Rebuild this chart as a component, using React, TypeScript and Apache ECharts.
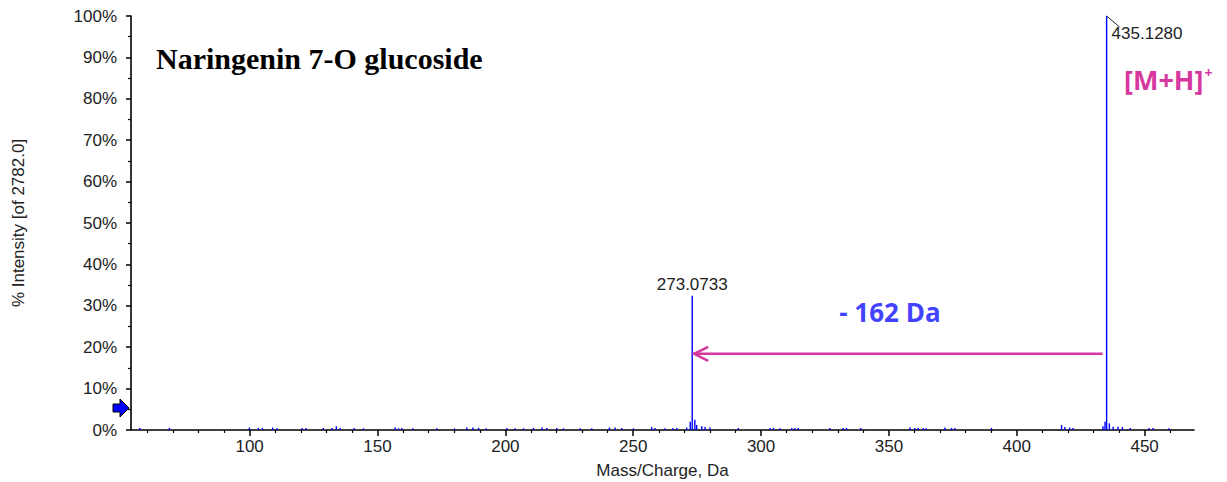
import React, { useEffect, useRef } from "react";
import * as echarts from "echarts";

// Main peaks (m/z, % intensity)
const mainMz = [273.0733, 435.128];
const mainIntensity = [32.4, 100];
const mainLabels = ["273.0733", "435.1280"];

// Small noise peaks (m/z, % intensity)
const noiseMz = [
  57, 68.6, 99.9, 103.4, 105, 109, 110.7, 120.5, 122, 128.8, 132.2, 133.9, 135.4, 140.9, 144.5, 156.9, 158.2,
  159.5, 163.8, 173.2, 180.1, 184.9, 187.3, 189.5, 192.5, 200.6, 203.8, 207.1, 211, 214.3, 216.2, 220.1, 222.7,
  229.2, 233.8, 240.7, 242.9, 245.5, 250.1, 257.2, 258.5, 262.4, 265.5, 267, 270.9, 272.3, 274.1, 274.8, 276.8,
  278.1, 280, 291.1, 303.5, 304.8, 307.4, 312, 313.2, 314.5, 326.9, 332.1, 333.4, 339, 358.2, 360.1, 361.4, 363.4,
  364.5, 371.9, 374.5, 375.8, 390.1, 417.5, 418.8, 420.7, 422, 433.7, 434.5, 436.2, 437.7, 439.6, 441.3, 444.4,
  451.7, 453.3, 459.5,
];
const noiseIntensity = [
  0.5, 0.5, 0.6, 0.5, 0.5, 0.6, 0.4, 0.5, 0.5, 0.5, 0.5, 0.9, 0.5, 0.5, 0.4, 0.6, 0.4,
  0.5, 0.4, 0.4, 0.4, 0.6, 0.6, 0.5, 0.4, 0.5, 0.4, 0.4, 0.5, 0.6, 0.5, 0.5, 0.4,
  0.4, 0.4, 0.6, 0.6, 0.5, 0.4, 0.7, 0.5, 0.4, 0.5, 0.5, 0.6, 2.0, 2.5, 1.2, 0.9,
  0.7, 0.6, 0.5, 0.5, 0.5, 0.4, 0.5, 0.5, 0.5, 0.5, 0.5, 0.5, 0.5, 0.6, 0.5, 0.5, 0.5,
  0.4, 0.6, 0.5, 0.5, 0.5, 1.2, 0.7, 0.6, 0.5, 0.9, 2.0, 1.6, 0.8, 0.8, 0.7, 0.5,
  0.5, 0.5, 0.4,
];

// Axis ticks
const xMajorTicks = [100, 150, 200, 250, 300, 350, 400, 450];
const xMinorTicks = [
  60, 70, 80, 90, 110, 120, 130, 140, 160, 170, 180, 190, 210, 220, 230, 240, 260, 270, 280, 290, 310, 320, 330,
  340, 360, 370, 380, 390, 410, 420, 430, 440, 460,
];

// Annotation (neutral loss arrow)
const arrowFromMz = 433.6;
const arrowToMz = 273.0733;
const arrowLevel = 18.4;
const lossText = "- 162 Da";
const lossTextPos = [350.4, 28.5];

const BLUE = "#0000ff";
const MAGENTA = "#d6389f";
const SANS = "'Liberation Sans', Arial, sans-serif";

export default function App() {
  const ref = useRef<HTMLDivElement>(null);

  useEffect(() => {
    if (!ref.current) return;
    const chart = echarts.init(ref.current, undefined, { renderer: "svg" });

    const peaks = mainMz
      .map((m, i) => [m, mainIntensity[i]])
      .concat(noiseMz.map((m, i) => [m, noiseIntensity[i]]));

    const stickRender = (params: any, api: any) => {
      const x = api.value(0);
      const y = api.value(1);
      const p0 = api.coord([x, 0]);
      const p1 = api.coord([x, y]);
      return {
        type: "line",
        shape: { x1: p0[0], y1: p0[1], x2: p1[0], y2: p1[1] },
        style: { stroke: BLUE, lineWidth: 1.4 },
      };
    };

    const labelRender = (params: any, api: any) => {
      const i = params.dataIndex;
      const p = api.coord([mainMz[i], mainIntensity[i]]);
      if (i === 0) {
        return {
          type: "text",
          x: p[0],
          y: p[1] - 3,
          style: {
            text: mainLabels[i],
            textAlign: "center",
            textVerticalAlign: "bottom",
            fill: "#222",
            font: "17px " + SANS,
          },
        };
      }
      return {
        type: "group",
        children: [
          {
            type: "line",
            shape: { x1: p[0], y1: p[1], x2: p[0] + 13, y2: p[1] + 11 },
            style: { stroke: "#222", lineWidth: 1 },
          },
          {
            type: "text",
            x: p[0] + 5,
            y: p[1] + 9,
            style: {
              text: mainLabels[i],
              textAlign: "left",
              textVerticalAlign: "top",
              fill: "#222",
              font: "17px " + SANS,
            },
          },
        ],
      };
    };

    const arrowRender = (params: any, api: any) => {
      const a = api.coord([arrowFromMz, arrowLevel]);
      const b = api.coord([arrowToMz, arrowLevel]);
      const t = api.coord(lossTextPos);
      return {
        type: "group",
        children: [
          {
            type: "line",
            shape: { x1: a[0], y1: a[1], x2: b[0] + 1, y2: b[1] },
            style: { stroke: MAGENTA, lineWidth: 2.6 },
          },
          {
            type: "polyline",
            shape: {
              points: [
                [b[0] + 16, b[1] - 7],
                [b[0] + 2, b[1]],
                [b[0] + 16, b[1] + 7],
              ],
            },
            style: { stroke: MAGENTA, lineWidth: 2.6, fill: "none" },
          },
          {
            type: "text",
            x: t[0],
            y: t[1],
            style: {
              text: lossText,
              textAlign: "center",
              textVerticalAlign: "middle",
              fill: "#4343ff",
              font: "bold 26px 'Open Sans', 'Noto Sans', sans-serif",
            },
          },
        ],
      };
    };

    chart.setOption({
      animation: false,
      title: {
        text: "Naringenin 7-O glucoside",
        left: 151,
        top: 38,
        textStyle: {
          fontFamily: "'Liberation Serif', 'Times New Roman', serif",
          fontWeight: "bold",
          fontSize: 30,
          color: "#000",
        },
      },
      grid: { left: 131, right: 33, top: 16, bottom: 52, containLabel: false, outerBoundsMode: "none" },
      xAxis: [
        {
          type: "value",
          min: 53.6,
          max: 469.3,
          name: "Mass/Charge, Da",
          nameLocation: "middle",
          nameGap: 32,
          nameTextStyle: { fontFamily: SANS, fontSize: 17, color: "#222" },
          axisLine: { show: true, lineStyle: { color: "#000", width: 1.6 } },
          axisTick: { show: true, customValues: xMajorTicks, length: 6, lineStyle: { color: "#000", width: 1.5 } },
          axisLabel: {
            show: true,
            customValues: xMajorTicks,
            margin: 8,
            fontFamily: SANS,
            fontSize: 17,
            color: "#222",
          },
          splitLine: { show: false },
        },
        {
          type: "value",
          min: 53.6,
          max: 469.3,
          position: "bottom",
          axisLine: { show: false },
          axisTick: { show: true, customValues: xMinorTicks, length: 3, lineStyle: { color: "#000", width: 1.2 } },
          axisLabel: { show: false },
          splitLine: { show: false },
        },
      ],
      yAxis: {
        type: "value",
        min: 0,
        max: 100,
        interval: 10,
        name: "% Intensity [of 2782.0]",
        nameLocation: "middle",
        nameGap: 104,
        nameTextStyle: { fontFamily: SANS, fontSize: 17, color: "#222" },
        axisLine: { show: true, lineStyle: { color: "#000", width: 1.6 } },
        axisTick: { show: true, length: 5, lineStyle: { color: "#000", width: 1.5 } },
        minorTick: { show: true, splitNumber: 2, length: 3, lineStyle: { color: "#000", width: 1.2 } },
        axisLabel: {
          formatter: "{value}%",
          margin: 14,
          fontFamily: SANS,
          fontSize: 17,
          color: "#222",
        },
        splitLine: { show: false },
      },
      series: [
        {
          type: "custom",
          name: "spectrum",
          renderItem: stickRender,
          data: peaks,
          clip: true,
          silent: true,
        },
        {
          type: "custom",
          name: "labels",
          renderItem: labelRender,
          data: mainMz.map((m, i) => [m, mainIntensity[i]]),
          silent: true,
        },
        {
          type: "custom",
          name: "arrow",
          renderItem: arrowRender,
          data: [[arrowFromMz, arrowLevel]],
          silent: true,
        },
      ],
      graphic: [
        {
          type: "text",
          left: 1124,
          top: 65,
          style: {
            text: "{a|[M+H]}{b|+}",
            rich: {
              a: {
                fontSize: 27,
                fontWeight: "bold",
                fill: MAGENTA,
                color: MAGENTA,
                fontFamily: "'Open Sans', 'Noto Sans', sans-serif",
              },
              b: {
                fontSize: 14,
                fontWeight: "bold",
                fill: MAGENTA,
                color: MAGENTA,
                verticalAlign: "top",
                padding: [0, 0, 14, 1],
                fontFamily: "'Open Sans', 'Noto Sans', sans-serif",
              },
            },
          },
        },
        {
          type: "polygon",
          shape: {
            points: [
              [113, 404],
              [120, 404],
              [120, 399],
              [129, 408],
              [120, 417],
              [120, 412],
              [113, 412],
            ],
          },
          style: { fill: BLUE, stroke: "#000", lineWidth: 1 },
        },
      ],
    });

    return () => chart.dispose();
  }, []);

  return (
    <div
      ref={ref}
      style={{ position: "absolute", left: 0, top: 0, width: 1227, height: 482 }}
    />
  );
}
